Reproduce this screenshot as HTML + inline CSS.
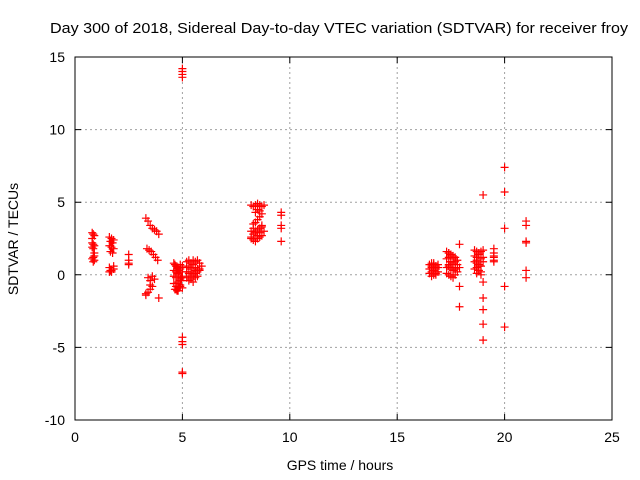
<!DOCTYPE html>
<html><head><meta charset="utf-8"><style>
body{margin:0;background:#fff;}
svg{display:block;font-family:"Liberation Sans",sans-serif;}
</style></head><body>
<svg id="chart" width="640" height="480">
<text x="339" y="33" font-size="14.5" text-anchor="middle" textLength="578" lengthAdjust="spacingAndGlyphs">Day 300 of 2018, Sidereal Day-to-day VTEC variation (SDTVAR) for receiver froy</text>
<text x="340" y="470" font-size="14" text-anchor="middle">GPS time / hours</text>
<text transform="translate(18,239) rotate(-90)" font-size="14" text-anchor="middle">SDTVAR / TECUs</text>
<g id="grid"></g><g id="ticks"></g><g id="marks"></g>
<rect x="75" y="57" width="537" height="363" fill="none" stroke="#000" stroke-width="1"/>
</svg>
<script>
const xTicks=[0,5,10,15,20,25];
const yTicks=[-10,-5,0,5,10,15];
const hours=[
0.8,0.85,0.9,0.8,0.85,0.9,0.8,0.85,0.9,0.85,0.8,0.9,0.85,0.8,0.9,
1.6,1.7,1.8,1.65,1.75,1.6,1.7,1.8,1.65,1.75,1.6,1.7,1.8,1.6,1.7,1.8,1.65,
2.5,2.5,2.5,2.5,
3.3,3.4,3.5,3.6,3.7,3.8,3.9,3.35,3.45,3.55,3.65,3.75,3.85,3.3,3.4,3.5,3.6,3.7,3.4,3.5,3.6,3.3,3.9,3.5,
4.6,4.7,4.8,4.9,5.0,4.6,4.7,4.8,4.9,5.0,4.6,4.7,4.8,4.9,5.0,4.6,4.7,4.8,4.9,5.0,4.65,4.75,4.85,4.95,4.65,4.75,4.85,4.95,4.7,4.8,4.9,4.7,4.8,4.9,
5.0,5.0,5.0,5.0,5.0,5.0,5.0,5.0,5.0,
5.2,5.3,5.4,5.5,5.6,5.7,5.8,5.9,5.2,5.3,5.4,5.5,5.6,5.7,5.8,5.3,5.4,5.5,5.6,5.7,5.2,5.4,5.6,5.8,5.3,5.5,5.7,5.2,5.4,5.6,
8.2,8.3,8.4,8.5,8.6,8.7,8.8,8.2,8.3,8.4,8.5,8.6,8.7,8.2,8.3,8.4,8.5,8.6,8.7,8.3,8.4,8.5,8.6,8.7,8.2,8.3,8.4,8.5,8.6,8.7,8.8,8.4,8.5,8.6,
9.6,9.6,9.6,9.6,9.6,
16.5,16.6,16.7,16.8,16.9,16.5,16.6,16.7,16.8,16.9,16.5,16.6,16.7,16.8,16.9,16.6,16.7,16.8,16.6,16.7,16.8,
17.3,17.4,17.5,17.6,17.7,17.8,17.3,17.4,17.5,17.6,17.7,17.8,17.3,17.4,17.5,17.6,17.7,17.8,17.3,17.4,17.5,17.6,17.7,17.4,17.5,17.6,17.4,17.5,17.6,17.7,17.9,17.9,17.9,17.9,
18.6,18.7,18.8,18.9,19.0,18.6,18.7,18.8,18.9,19.0,18.6,18.7,18.8,18.9,19.0,18.6,18.7,18.8,18.9,18.7,18.8,18.9,18.7,18.8,
19.0,19.0,19.0,19.0,19.0,19.0,
19.5,19.5,19.5,19.5,19.5,19.5,
20.0,20.0,20.0,20.0,20.0,
21.0,21.0,21.0,21.0,21.0,21.0
];
const sdtvar=[
2.9,2.8,2.7,2.5,2.1,2.0,1.9,1.8,1.3,1.2,1.1,1.0,0.9,2.2,1.5,
2.6,2.5,2.4,2.3,2.2,2.0,1.9,1.8,1.6,1.5,0.2,0.3,0.4,0.5,0.2,0.6,0.3,
1.4,1.0,0.8,0.7,
3.9,3.7,3.4,3.2,3.1,3.0,2.8,1.8,1.7,1.6,1.4,1.2,1.0,-1.4,-1.2,-1.0,-0.8,-0.3,-0.2,-0.4,-0.1,-1.3,-1.6,-0.7,
0.8,0.6,0.5,0.7,0.6,0.3,0.2,0.1,0.4,0.2,-0.1,-0.2,0.0,-0.3,-0.1,-0.6,-0.8,-0.5,-0.7,-0.9,-1.0,-1.1,-0.9,-0.4,0.7,0.4,0.3,-0.2,-0.6,0.1,-0.4,-1.0,-1.1,-0.8,
14.2,14.0,13.8,13.6,-4.3,-4.6,-4.8,-6.7,-6.8,
0.9,1.0,0.8,1.0,0.9,1.0,0.8,0.6,0.5,0.6,0.4,0.7,0.5,0.4,0.3,0.1,0.2,0.0,0.1,-0.1,-0.2,-0.3,-0.2,0.4,-0.4,-0.5,0.2,0.2,-0.1,0.3,
4.8,4.7,4.8,4.9,4.8,4.7,4.8,2.5,2.4,2.3,2.5,2.6,2.7,3.0,2.8,3.0,3.1,3.2,3.4,3.5,3.6,3.8,4.0,4.2,2.6,3.2,2.9,2.7,2.9,3.3,3.0,4.3,4.5,4.4,
4.3,4.1,3.4,3.2,2.3,
0.7,0.8,0.7,0.6,0.7,0.4,0.5,0.5,0.4,0.5,0.1,0.2,0.0,0.1,0.2,-0.1,0.3,0.2,0.6,0.8,0.0,
1.6,1.5,1.4,1.3,1.2,1.0,1.1,1.2,0.9,0.8,0.9,0.7,0.5,0.6,0.4,0.3,0.5,0.2,0.1,0.0,-0.1,-0.2,0.0,1.5,1.3,1.1,0.7,0.9,0.3,0.4,2.1,0.5,-0.8,-2.2,
1.7,1.6,1.5,1.6,1.7,1.3,1.2,1.4,1.1,1.2,0.9,0.8,0.7,0.6,0.9,0.4,0.5,0.3,0.2,0.1,0.3,0.0,1.0,0.6,
5.5,-0.5,-1.6,-2.4,-3.4,-4.5,
1.8,1.5,1.2,1.0,0.9,1.3,
7.4,5.7,3.2,-0.8,-3.6,
3.7,3.4,2.3,2.2,0.3,-0.2
];
const NS='http://www.w3.org/2000/svg';
const X0=75,X1=612,Y0=420,Y1=57;
function xs(v){return X0+(v-0)/(25-0)*(X1-X0);}
function ys(v){return Y0-(v+10)/(25)*(Y0-Y1);}
const grid=document.getElementById('grid'),ticks=document.getElementById('ticks'),marks=document.getElementById('marks');
xTicks.forEach(t=>{
 const x=xs(t);
 if(t>0&&t<25){const l=document.createElementNS(NS,'line');
 
 
 l.setAttribute('x1',x);l.setAttribute('x2',x);l.setAttribute('y1',Y1);l.setAttribute('y2',Y0);
 l.setAttribute('stroke','#a0a0a0');l.setAttribute('stroke-dasharray','2,3');grid.appendChild(l);}
 const tk=document.createElementNS(NS,'path');
 
 
 tk.setAttribute('d',`M${x},${Y0}V${Y0-6}M${x},${Y1}V${Y1+6}`);tk.setAttribute('stroke','#000');ticks.appendChild(tk);
 const tx=document.createElementNS(NS,'text');
 
 
 tx.setAttribute('x',x);tx.setAttribute('y',442);tx.setAttribute('font-size','14');tx.setAttribute('text-anchor','middle');
 tx.textContent=t;ticks.appendChild(tx);
});
yTicks.forEach(t=>{
 const y=ys(t);
 if(t>-10&&t<15){const l=document.createElementNS(NS,'line');
 
 
 l.setAttribute('x1',X0);l.setAttribute('x2',X1);l.setAttribute('y1',y);l.setAttribute('y2',y);
 l.setAttribute('stroke','#a0a0a0');l.setAttribute('stroke-dasharray','2,3');grid.appendChild(l);}
 const tk=document.createElementNS(NS,'path');
 
 
 tk.setAttribute('d',`M${X0},${y}H${X0+6}M${X1},${y}H${X1-6}`);tk.setAttribute('stroke','#000');ticks.appendChild(tk);
 const tx=document.createElementNS(NS,'text');
 
 
 tx.setAttribute('x',65);tx.setAttribute('y',y+5);tx.setAttribute('font-size','14');tx.setAttribute('text-anchor','end');
 tx.textContent=t;ticks.appendChild(tx);
});
for(let i=0;i<hours.length;i++){
 const x=xs(hours[i]),y=ys(sdtvar[i]);
 const p=document.createElementNS(NS,'path');
 
 
 p.setAttribute('d',`M${x-4},${y}H${x+4}M${x},${y-4}V${y+4}`);
 p.setAttribute('stroke','#ff0000');p.setAttribute('stroke-width','1.2');p.setAttribute('fill','none');
 marks.appendChild(p);
}
</script>
</body></html>
